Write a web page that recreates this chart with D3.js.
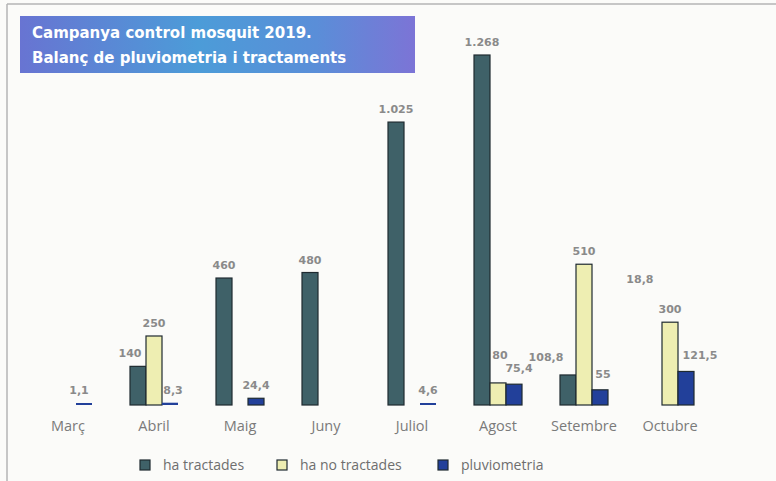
<!DOCTYPE html>
<html>
<head>
<meta charset="utf-8">
<script src="https://cdn.jsdelivr.net/npm/d3@7"></script>
<style>
  html, body { margin: 0; padding: 0; background: #fbfbf9; }
  svg { display: block; }
</style>
</head>
<body>
<svg id="chart" width="776" height="481"></svg>
<script>
// data
const months = ['Març', 'Abril', 'Maig', 'Juny', 'Juliol', 'Agost', 'Setembre', 'Octubre'];
const series = ['ha tractades', 'ha no tractades', 'pluviometria'];
const haTractades   = [null, 140, 460, 480, 1025, 1268, 108.8, null];
const haNoTractades = [null, 250, null, null, null, 80, 510, 300];
const pluviometria  = [1.1, 8.3, 24.4, null, 4.6, 75.4, 55, 121.5];
// a loose label printed between Setembre and Octubre
const looseLabel = { text: '18,8', month: 'Setembre', value: 442 };

const colors = ['#3f6168', '#eeeeb2', '#22409a'];
const labelColor = '#8a8a8a';
const boldFont = '"DejaVu Sans", Verdana, sans-serif';
const lightFont = '"Open Sans", "Liberation Sans", sans-serif';

const svg = d3.select('#chart');
const width = 776, height = 481;

// frame of the clipping
svg.append('line').attr('x1', 7).attr('y1', 4).attr('x2', width).attr('y2', 4)
  .attr('stroke', '#b4b4b4').attr('stroke-width', 1.5);
svg.append('line').attr('x1', 7).attr('y1', 4).attr('x2', 7).attr('y2', height)
  .attr('stroke', '#b4b4b4').attr('stroke-width', 1.5);

// title box
const defs = svg.append('defs');
const grad = defs.append('linearGradient').attr('id', 'titleGrad')
  .attr('x1', '0%').attr('x2', '100%').attr('y1', '0%').attr('y2', '0%');
grad.append('stop').attr('offset', '0%').attr('stop-color', '#6874d2');
grad.append('stop').attr('offset', '45%').attr('stop-color', '#4c9cd8');
grad.append('stop').attr('offset', '75%').attr('stop-color', '#5a8ed8');
grad.append('stop').attr('offset', '100%').attr('stop-color', '#7c74d6');

svg.append('rect').attr('x', 20).attr('y', 16).attr('width', 395).attr('height', 57)
  .attr('fill', 'url(#titleGrad)');
const title = svg.append('text').attr('fill', '#ffffff')
  .style('font-family', boldFont)
  .style('font-weight', 'bold').style('font-size', '15px');
title.append('tspan').attr('x', 32).attr('y', 38).text('Campanya control mosquit 2019.');
title.append('tspan').attr('x', 32).attr('y', 63).text('Balanç de pluviometria i tractaments');

// scales
const baseY = 405;
const x = d3.scaleBand().domain(months).range([25, 713]).padding(0);
const xSub = d3.scaleBand().domain(series)
  .range([x.bandwidth() / 2 - 24, x.bandwidth() / 2 + 24]).padding(0);
const y = d3.scaleLinear().domain([0, 1268]).range([baseY, 55]);

const valuesBySeries = [haTractades, haNoTractades, pluviometria];
const bars = [];
valuesBySeries.forEach((vals, s) => {
  vals.forEach((v, i) => {
    if (v !== null) bars.push({ month: months[i], series: series[s], s, value: v });
  });
});

// bars
svg.append('g').selectAll('rect').data(bars).join('rect')
  .attr('x', d => x(d.month) + xSub(d.series))
  .attr('width', xSub.bandwidth())
  .attr('y', d => Math.min(y(d.value), baseY - 2))
  .attr('height', d => Math.max(baseY - y(d.value), 2))
  .attr('fill', d => colors[d.s])
  .attr('stroke', d => (baseY - y(d.value) < 3 ? 'none' : '#1f2a30'))
  .attr('stroke-width', 1.2);

// value labels (nudged like the printed chart)
const fmtValue = v => v >= 1000 ? d3.format(',')(v).replace(',', '.') : String(v).replace('.', ',');
const nudge = {
  'Març|pluviometria': [-5, 0],
  'Abril|ha tractades': [-8, 0],
  'Abril|pluviometria': [3, 0],
  'Agost|ha no tractades': [2, -15],
  'Agost|pluviometria': [5, -3],
  'Setembre|ha tractades': [-22, -5],
  'Setembre|pluviometria': [3, -3],
  'Octubre|pluviometria': [14, -3]
};
const off = d => nudge[d.month + '|' + d.series] || [0, 0];
svg.append('g').selectAll('text').data(bars).join('text')
  .attr('x', d => x(d.month) + xSub(d.series) + xSub.bandwidth() / 2 + off(d)[0])
  .attr('y', d => Math.min(y(d.value), baseY - 2) - 9 + off(d)[1])
  .attr('text-anchor', 'middle')
  .attr('fill', labelColor)
  .style('font-family', boldFont)
  .style('font-weight', 'bold').style('font-size', '11px')
  .text(d => fmtValue(d.value));

svg.append('text')
  .attr('x', x(looseLabel.month) + x.bandwidth() * 1.15)
  .attr('y', y(looseLabel.value))
  .attr('text-anchor', 'middle')
  .attr('fill', labelColor)
  .style('font-family', boldFont)
  .style('font-weight', 'bold').style('font-size', '11px')
  .text(looseLabel.text);

// month axis
const axis = svg.append('g').attr('transform', `translate(0,${baseY})`)
  .call(d3.axisBottom(x).tickSize(0).tickPadding(16));
axis.select('.domain').remove();
axis.selectAll('text')
  .attr('fill', '#7a7a7a')
  .style('font-family', lightFont)
  .style('font-size', '14.5px');

// legend
const legendX = [140, 277, 438];
const legend = svg.append('g').selectAll('g').data(series).join('g')
  .attr('transform', (d, i) => `translate(${legendX[i]},460)`);
legend.append('rect').attr('width', 10).attr('height', 10)
  .attr('fill', (d, i) => colors[i]).attr('stroke', '#1f2a30').attr('stroke-width', 1.2);
legend.append('text').attr('x', 23).attr('y', 10)
  .attr('fill', '#6e6e6e')
  .style('font-family', lightFont)
  .style('font-size', '14px')
  .text(d => d);
</script>
</body>
</html>
